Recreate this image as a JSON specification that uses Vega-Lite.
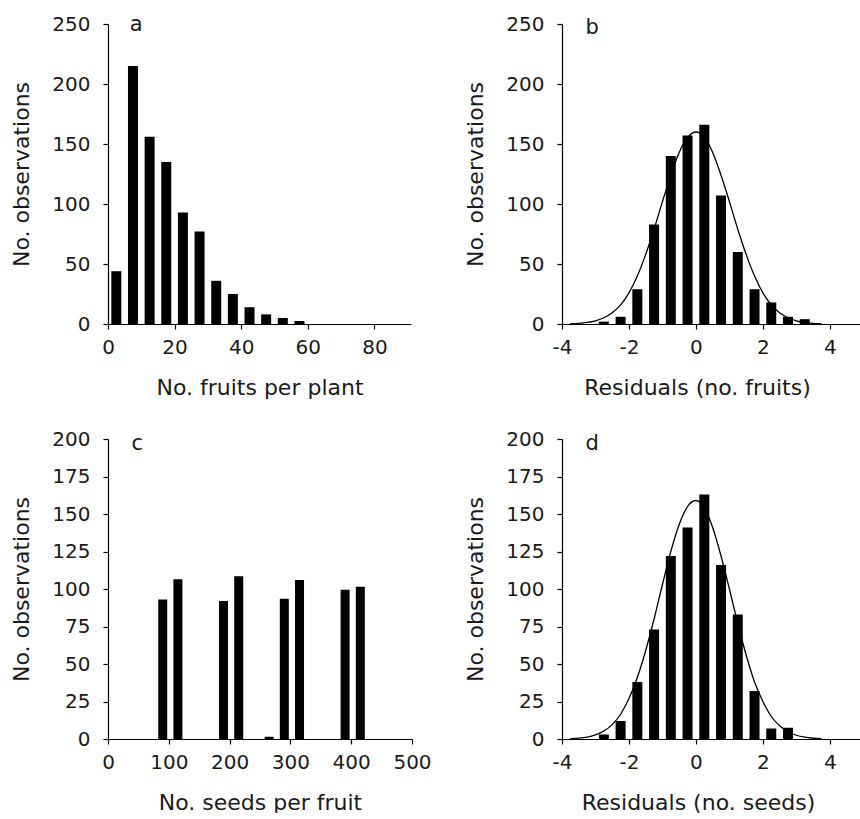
{
  "$schema": "https://vega.github.io/schema/vega-lite/v6.json",
  "background": "white",
  "padding": {"left": 10, "top": 14, "right": 0, "bottom": 0},
  "bounds": "flush",
  "columns": 2,
  "spacing": {"row": 115, "column": 150},
  "config": {
    "view": {"stroke": null},
    "font": "DejaVu Sans",
    "scale": {"continuousPadding": 0},
    "axis": {
      "domainColor": "black", "domainWidth": 1.2, "tickColor": "black", "tickSize": 5, "tickWidth": 1.2,
      "grid": false, "labelFont": "DejaVu Sans", "labelFontSize": 20, "labelColor": "#1a1a1a",
      "titleFont": "DejaVu Sans", "titleFontSize": 22, "titleFontWeight": "normal", "titleColor": "#1a1a1a",
      "labelPadding": 8, "titlePadding": 20, "labelOverlap": false, "labelFlush": false
    },
    "axisY": {"labelPadding": 13, "titlePadding": 18}
  },
  "concat": [
    {
      "width": 303, "height": 300,
      "encoding": {
        "x": {"field": "fruits", "type": "quantitative", "scale": {"domain": [0, 91], "padding": 0, "nice": false}, "axis": {"values": [0, 20, 40, 60, 80], "title": "No. fruits per plant"}},
        "y": {"field": "count", "type": "quantitative", "scale": {"domain": [0, 250], "padding": 0, "nice": false}, "axis": {"values": [0, 50, 100, 150, 200, 250], "title": "No. observations"}}
      },
      "layer": [
        {
          "data": {"values": [
            {"fruits": 2.5, "count": 44}, {"fruits": 7.5, "count": 215}, {"fruits": 12.5, "count": 156},
            {"fruits": 17.5, "count": 135}, {"fruits": 22.5, "count": 93}, {"fruits": 27.5, "count": 77},
            {"fruits": 32.5, "count": 36}, {"fruits": 37.5, "count": 25}, {"fruits": 42.5, "count": 14},
            {"fruits": 47.5, "count": 8}, {"fruits": 52.5, "count": 5}, {"fruits": 57.5, "count": 2.5}
          ]},
          "mark": {"type": "bar", "width": 10, "color": "black"}
        },
        {
          "data": {"values": [{"fruits": 8.5, "count": 249, "label": "a"}]},
          "mark": {"type": "text", "fontSize": 21, "align": "center", "baseline": "middle", "color": "#1a1a1a"},
          "encoding": {"text": {"field": "label"}}
        }
      ]
    },
    {
      "width": 298, "height": 300,
      "encoding": {
        "x": {"field": "resid", "type": "quantitative", "scale": {"domain": [-4, 4.9], "padding": 0, "nice": false}, "axis": {"values": [-4, -2, 0, 2, 4], "title": "Residuals (no. fruits)", "titleX": 135, "labelExpr": "datum.value < 0 ? '-' + abs(datum.value) : '' + datum.value"}},
        "y": {"field": "count", "type": "quantitative", "scale": {"domain": [0, 250], "padding": 0, "nice": false}, "axis": {"values": [0, 50, 100, 150, 200, 250], "title": "No. observations"}}
      },
      "layer": [
        {
          "data": {"values": [
            {"resid": -2.75, "count": 2}, {"resid": -2.25, "count": 6}, {"resid": -1.75, "count": 29},
            {"resid": -1.25, "count": 83}, {"resid": -0.75, "count": 140}, {"resid": -0.25, "count": 157},
            {"resid": 0.25, "count": 166}, {"resid": 0.75, "count": 107}, {"resid": 1.25, "count": 60},
            {"resid": 1.75, "count": 29}, {"resid": 2.25, "count": 18}, {"resid": 2.75, "count": 6},
            {"resid": 3.25, "count": 4}
          ]},
          "mark": {"type": "bar", "width": 10, "color": "black"}
        },
        {
          "data": {"values": [
            {"resid": -3.75, "count": 0.3}, {"resid": -3.5, "count": 0.6}, {"resid": -3.25, "count": 1.3},
            {"resid": -3.0, "count": 2.7}, {"resid": -2.75, "count": 5.2}, {"resid": -2.5, "count": 9.4},
            {"resid": -2.25, "count": 16}, {"resid": -2.0, "count": 26}, {"resid": -1.75, "count": 40},
            {"resid": -1.5, "count": 58}, {"resid": -1.25, "count": 79}, {"resid": -1.0, "count": 102},
            {"resid": -0.75, "count": 124}, {"resid": -0.5, "count": 143}, {"resid": -0.25, "count": 155.5},
            {"resid": 0.0, "count": 160}, {"resid": 0.25, "count": 155.5}, {"resid": 0.5, "count": 143},
            {"resid": 0.75, "count": 124}, {"resid": 1.0, "count": 102}, {"resid": 1.25, "count": 79},
            {"resid": 1.5, "count": 58}, {"resid": 1.75, "count": 40}, {"resid": 2.0, "count": 26},
            {"resid": 2.25, "count": 16}, {"resid": 2.5, "count": 9.4}, {"resid": 2.75, "count": 5.2},
            {"resid": 3.0, "count": 2.7}, {"resid": 3.25, "count": 1.3}, {"resid": 3.5, "count": 0.6},
            {"resid": 3.75, "count": 0.3}
          ]},
          "mark": {"type": "line", "color": "black", "strokeWidth": 1.3, "interpolate": "monotone"}
        },
        {
          "data": {"values": [{"resid": -3.1, "count": 247, "label": "b"}]},
          "mark": {"type": "text", "fontSize": 21, "align": "center", "baseline": "middle", "color": "#1a1a1a"},
          "encoding": {"text": {"field": "label"}}
        }
      ]
    },
    {
      "width": 304, "height": 300,
      "encoding": {
        "x": {"field": "seeds", "type": "quantitative", "scale": {"domain": [0, 500], "padding": 0, "nice": false}, "axis": {"values": [0, 100, 200, 300, 400, 500], "title": "No. seeds per fruit"}},
        "y": {"field": "count", "type": "quantitative", "scale": {"domain": [0, 200], "padding": 0, "nice": false}, "axis": {"values": [0, 25, 50, 75, 100, 125, 150, 175, 200], "title": "No. observations"}}
      },
      "layer": [
        {
          "data": {"values": [
            {"seeds": 90, "count": 93}, {"seeds": 115, "count": 106.5}, {"seeds": 190, "count": 92},
            {"seeds": 215, "count": 108.5}, {"seeds": 265, "count": 1.5}, {"seeds": 290, "count": 93.5},
            {"seeds": 315, "count": 106}, {"seeds": 390, "count": 99.5}, {"seeds": 415, "count": 101.5}
          ]},
          "mark": {"type": "bar", "width": 9, "color": "black"}
        },
        {
          "data": {"values": [{"seeds": 48, "count": 197, "label": "c"}]},
          "mark": {"type": "text", "fontSize": 21, "align": "center", "baseline": "middle", "color": "#1a1a1a"},
          "encoding": {"text": {"field": "label"}}
        }
      ]
    },
    {
      "width": 298, "height": 300,
      "encoding": {
        "x": {"field": "resid", "type": "quantitative", "scale": {"domain": [-4, 4.9], "padding": 0, "nice": false}, "axis": {"values": [-4, -2, 0, 2, 4], "title": "Residuals (no. seeds)", "titleX": 136, "labelExpr": "datum.value < 0 ? '-' + abs(datum.value) : '' + datum.value"}},
        "y": {"field": "count", "type": "quantitative", "scale": {"domain": [0, 200], "padding": 0, "nice": false}, "axis": {"values": [0, 25, 50, 75, 100, 125, 150, 175, 200], "title": "No. observations"}}
      },
      "layer": [
        {
          "data": {"values": [
            {"resid": -2.75, "count": 3}, {"resid": -2.25, "count": 12}, {"resid": -1.75, "count": 38},
            {"resid": -1.25, "count": 73}, {"resid": -0.75, "count": 122}, {"resid": -0.25, "count": 141},
            {"resid": 0.25, "count": 163}, {"resid": 0.75, "count": 116}, {"resid": 1.25, "count": 83},
            {"resid": 1.75, "count": 32}, {"resid": 2.25, "count": 7}, {"resid": 2.75, "count": 7.5}
          ]},
          "mark": {"type": "bar", "width": 10, "color": "black"}
        },
        {
          "data": {"values": [
            {"resid": -3.75, "count": 0.3}, {"resid": -3.5, "count": 0.6}, {"resid": -3.25, "count": 1.3},
            {"resid": -3.0, "count": 2.8}, {"resid": -2.75, "count": 5.3}, {"resid": -2.5, "count": 9.6},
            {"resid": -2.25, "count": 16.5}, {"resid": -2.0, "count": 27}, {"resid": -1.75, "count": 41},
            {"resid": -1.5, "count": 59}, {"resid": -1.25, "count": 80}, {"resid": -1.0, "count": 103},
            {"resid": -0.75, "count": 125}, {"resid": -0.5, "count": 143}, {"resid": -0.25, "count": 155},
            {"resid": 0.0, "count": 159}, {"resid": 0.25, "count": 154}, {"resid": 0.5, "count": 141},
            {"resid": 0.75, "count": 122}, {"resid": 1.0, "count": 100}, {"resid": 1.25, "count": 77},
            {"resid": 1.5, "count": 56}, {"resid": 1.75, "count": 38}, {"resid": 2.0, "count": 25},
            {"resid": 2.25, "count": 15}, {"resid": 2.5, "count": 8.8}, {"resid": 2.75, "count": 4.8},
            {"resid": 3.0, "count": 2.5}, {"resid": 3.25, "count": 1.2}, {"resid": 3.5, "count": 0.5},
            {"resid": 3.75, "count": 0.2}
          ]},
          "mark": {"type": "line", "color": "black", "strokeWidth": 1.3, "interpolate": "monotone"}
        },
        {
          "data": {"values": [{"resid": -3.1, "count": 197, "label": "d"}]},
          "mark": {"type": "text", "fontSize": 21, "align": "center", "baseline": "middle", "color": "#1a1a1a"},
          "encoding": {"text": {"field": "label"}}
        }
      ]
    }
  ]
}
